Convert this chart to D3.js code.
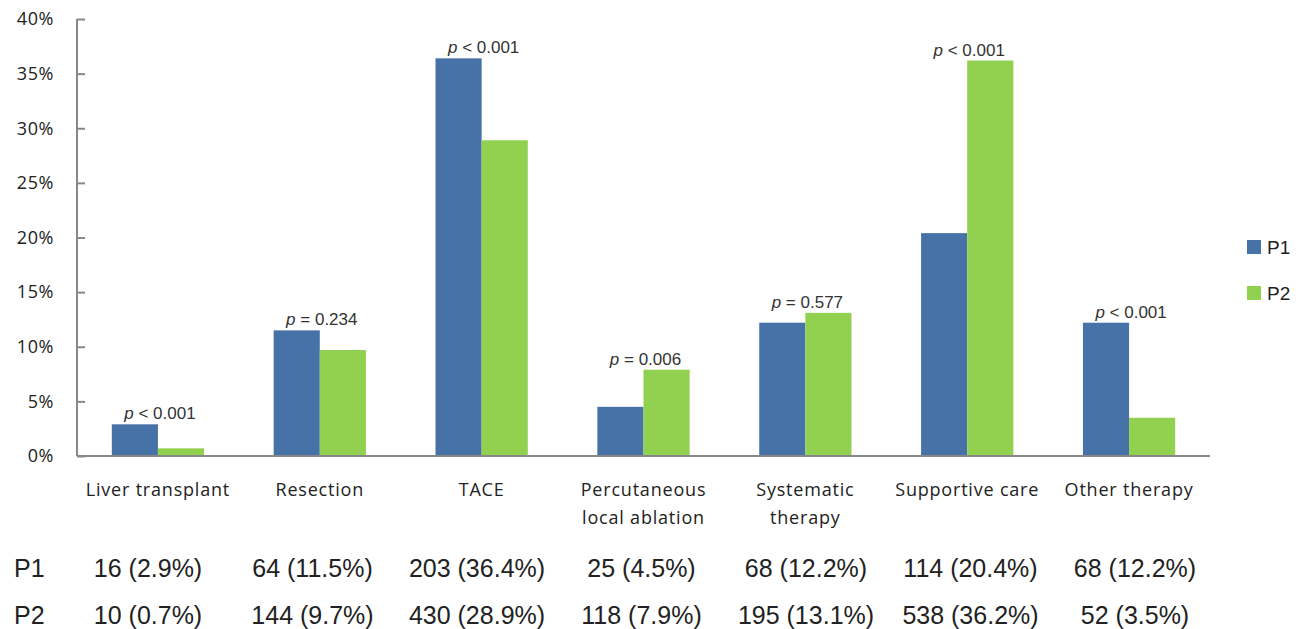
<!DOCTYPE html>
<html><head><meta charset="utf-8">
<script src="https://cdn.jsdelivr.net/npm/d3@7"></script>
<style>body{margin:0;background:#fff;} svg{display:block;}</style>
</head><body>
<svg id="c" width="1301" height="629"></svg>
<script>
const categories = [["Liver transplant"],["Resection"],["TACE"],["Percutaneous","local ablation"],["Systematic","therapy"],["Supportive care"],["Other therapy"]];
const seriesNames = ["P1","P2"];
const p1Values = [2.9, 11.5, 36.4, 4.5, 12.2, 20.4, 12.2];
const p2Values = [0.7, 9.7, 28.9, 7.9, 13.1, 36.2, 3.5];
const p1Counts = [16, 64, 203, 25, 68, 114, 68];
const p2Counts = [10, 144, 430, 118, 195, 538, 52];
const pLabels = ["< 0.001", "= 0.234", "< 0.001", "= 0.006", "= 0.577", "< 0.001", "< 0.001"];
const yTicks = [0, 5, 10, 15, 20, 25, 30, 35, 40];
const colors = ["#4672A8", "#92D050"];

const svg = d3.select("#c");
const mLeft = 77, mRight = 1210, mTop = 19, mBottom = 456;
const idx = d3.range(categories.length);
const x = d3.scaleBand().domain(idx).range([mLeft, mRight]).paddingInner(0.43).paddingOuter(0.215);
const xs = d3.scaleBand().domain([0,1]).range([0, x.bandwidth()]);
const y = d3.scaleLinear().domain([0, 40]).range([mBottom, mTop]);
const labelFont = "'Open Sans', Lato, sans-serif";

// y axis
const yAxis = d3.axisLeft(y).tickValues(yTicks).tickSize(-8).tickFormat(d => d + "%").tickPadding(23);
const ga = svg.append("g").attr("transform", `translate(${mLeft},0)`).call(yAxis);
ga.select(".domain").attr("stroke", "#888").attr("stroke-width", 2).attr("d", `M0,${mTop}V${mBottom}`);
ga.selectAll(".tick line").attr("stroke", "#888").attr("stroke-width", 2);
ga.selectAll(".tick text").attr("font-family", labelFont).attr("font-size", 18)
  .attr("letter-spacing", 0.6).attr("fill", "#222");

// bars
const series = [p1Values, p2Values];
series.forEach((vals, s) => {
  svg.append("g").selectAll("rect").data(vals).join("rect")
    .attr("x", (d, i) => x(i) + xs(s))
    .attr("width", xs.bandwidth())
    .attr("y", d => y(d))
    .attr("height", d => mBottom - y(d))
    .attr("fill", colors[s]);
});

// x axis line
svg.append("line").attr("x1", mLeft).attr("x2", mRight).attr("y1", mBottom).attr("y2", mBottom)
  .attr("stroke", "#888").attr("stroke-width", 2);

// p labels
idx.forEach(i => {
  const m = Math.max(p1Values[i], p2Values[i]);
  const t = svg.append("text").attr("x", x(i) + x.bandwidth() / 2 + 2).attr("y", y(m) - 5)
    .attr("text-anchor", "middle").attr("font-family", "Arial, 'Liberation Sans', sans-serif")
    .attr("font-size", 17).attr("fill", "#333");
  t.append("tspan").attr("font-style", "italic").text("p");
  t.append("tspan").text(" " + pLabels[i]);
});

// category labels
idx.forEach(i => {
  const t = svg.append("text").attr("text-anchor", "middle").attr("font-family", labelFont)
    .attr("font-size", 18).attr("letter-spacing", 0.8).attr("fill", "#222");
  categories[i].forEach((line, k) => {
    t.append("tspan").attr("x", x(i) + x.bandwidth() / 2).attr("y", 496 + k * 28).text(line);
  });
});

// legend
seriesNames.forEach((n, s) => {
  const ly = 247 + s * 46;
  svg.append("rect").attr("x", 1247).attr("y", ly - 7).attr("width", 14).attr("height", 14).attr("fill", colors[s]);
  svg.append("text").attr("x", 1267).attr("y", ly + 7).attr("font-family", "Arial, 'Liberation Sans', sans-serif")
    .attr("font-size", 19).attr("fill", "#222").text(n);
});

// table
const tx = d3.scalePoint().domain(idx).range([148, 1135]);
const rows = [[p1Values, p1Counts], [p2Values, p2Counts]];
rows.forEach(([vals, counts], r) => {
  const by = 577 + r * 47;
  svg.append("text").attr("x", 14).attr("y", by).attr("font-family", "Arial, 'Liberation Sans', sans-serif")
    .attr("font-size", 25).attr("fill", "#222").text(seriesNames[r]);
  svg.append("g").selectAll("text").data(idx).join("text")
    .attr("x", i => tx(i)).attr("y", by).attr("text-anchor", "middle")
    .attr("font-family", "Arial, 'Liberation Sans', sans-serif").attr("font-size", 25).attr("fill", "#222")
    .text(i => `${counts[i]} (${vals[i].toFixed(1)}%)`);
});
</script>
</body></html>
